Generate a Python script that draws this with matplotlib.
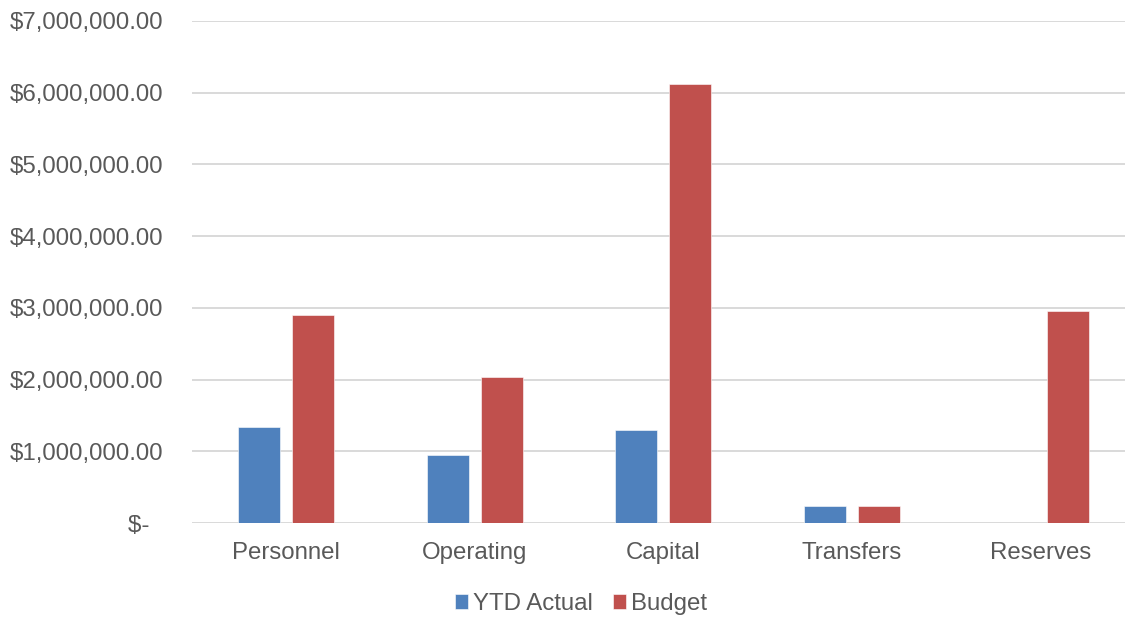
import matplotlib
matplotlib.use("Agg")
import matplotlib.pyplot as plt
import numpy as np
from matplotlib.ticker import FuncFormatter

categories = ["Personnel", "Operating", "Capital", "Transfers", "Reserves"]
ytd_actual = [1345000, 955000, 1290000, 232000, 0]
budget = [2900000, 2038000, 6125000, 232000, 2955000]
series_names = ["YTD Actual", "Budget"]
colors = ["#4F81BD", "#C0504D"]

plt.rcParams['font.family'] = ['Liberation Sans', 'DejaVu Sans']
text_color = "#595959"
fs = 17.3

fig = plt.figure(figsize=(11.25, 6.17), dpi=100)
ax = fig.add_axes([191.6/1125, 1-523/617, (1135-191.6)/1125, (523-21)/617])

x = np.arange(len(categories))
w = 0.2225
off = 0.143
ax.bar(x - off, ytd_actual, w, color=colors[0], label=series_names[0], zorder=3,
       edgecolor="white", linewidth=0.4)
ax.bar(x + off, budget, w, color=colors[1], label=series_names[1], zorder=3,
       edgecolor="white", linewidth=0.4)

ax.set_xlim(-0.5, len(categories) - 0.5)
ax.set_ylim(0, 7000000)
ax.set_yticks(np.arange(0, 7000001, 1000000))

def fmt(v, pos):
    if v == 0:
        return "$-  "
    return "${:,.2f}".format(v)
ax.yaxis.set_major_formatter(FuncFormatter(fmt))
ax.set_xticks(x)
ax.set_xticklabels(categories)

ax.grid(axis='y', color="#D9D9D9", linewidth=1.4, zorder=0)
for s in ax.spines.values():
    s.set_visible(False)
ax.tick_params(axis='both', length=0, labelsize=fs, colors=text_color)
ax.tick_params(axis='y', pad=20.6)
ax.tick_params(axis='x', pad=14)

leg = fig.legend(loc='center', bbox_to_anchor=(581/1125, 1-604/617), ncol=2, frameon=False,
                 fontsize=fs, handlelength=0.55, handleheight=0.55, handletextpad=0.2,
                 columnspacing=0.85)
for t in leg.get_texts():
    t.set_color(text_color)

fig.savefig("out.png", dpi=100)
